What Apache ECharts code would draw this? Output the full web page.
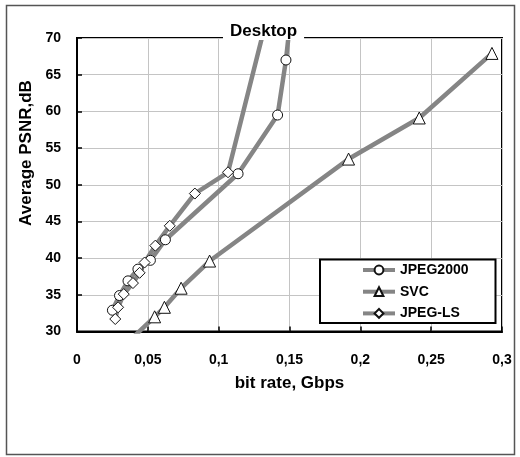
<!DOCTYPE html>
<html><head><meta charset="utf-8">
<script src="https://cdn.jsdelivr.net/npm/echarts@6/dist/echarts.min.js"></script>
<style>html,body{margin:0;padding:0;background:#fff}#c{width:520px;height:457px}</style>
</head><body><div id="c"></div>
<script>
const seriesNames = ['JPEG2000', 'SVC', 'JPEG-LS'];
const jpeg2000 = [[0.025,32.9],[0.030,34.9],[0.036,36.9],[0.043,38.5],[0.0518,39.7],[0.0624,42.5],[0.1137,51.5],[0.1416,59.5],[0.1475,67.0],[0.152,75]];
const svc = [[0.033,28],[0.0548,32.0],[0.0617,33.3],[0.0735,35.9],[0.0936,39.6],[0.1917,53.5],[0.2416,59.1],[0.2929,67.9]];
const jpegls = [[0.027,31.7],[0.029,33.3],[0.033,35.1],[0.0395,36.6],[0.0442,38.0],[0.0477,39.4],[0.0553,41.7],[0.0655,44.4],[0.0832,48.8],[0.1066,51.7],[0.137,75]];
const titleText = 'Desktop';
const xName = 'bit rate, Gbps';
const yName = 'Average PSNR,dB';

const chart = echarts.init(document.getElementById('c'));
const font = 'Liberation Sans, Arial, sans-serif';
function mk(name, data, symbol, size) {
  return {
    name, type: 'line', data, symbol, symbolSize: size, clip: true,
    lineStyle: { color: '#858585', width: 4.5 },
    itemStyle: { color: '#fff', borderColor: '#111', borderWidth: 1 },
    emphasis: { disabled: true }, z: 3
  };
}
chart.setOption({
  animation: false,
  backgroundColor: '#fff',
  title: {
    text: titleText, left: 223, top: 23,
    backgroundColor: '#fff', padding: [0, 7],
    textStyle: { fontFamily: font, fontWeight: 'bold', fontSize: 17, color: '#000' },
    z: 20
  },
  grid: { left: 77, right: 18, top: 38, bottom: 125.5, show: true, borderColor: '#000', borderWidth: 2 },
  legend: {
    orient: 'vertical', left: 356, top: 258, itemGap: 7.7,
    itemWidth: 32, itemHeight: 11,
    lineStyle: { width: 4, color: '#858585' },
    textStyle: { fontFamily: font, fontWeight: 'bold', fontSize: 14, color: '#000' },
    data: seriesNames, z: 30
  },
  xAxis: {
    type: 'value', min: 0, max: 0.3, interval: 0.05,
    name: xName, nameLocation: 'middle', nameGap: 43,
    nameTextStyle: { fontFamily: font, fontWeight: 'bold', fontSize: 17, color: '#000' },
    axisLine: { show: true, lineStyle: { color: '#000', width: 2 } },
    axisTick: { show: true, inside: true, length: 5, lineStyle: { color: '#000', width: 1.5 } },
    splitLine: { show: true, lineStyle: { color: '#c4c4c4', width: 1 } },
    axisLabel: { margin: 22, fontFamily: font, fontWeight: 'bold', fontSize: 14, color: '#000',
      formatter: v => v === 0 ? '0' : String(+v.toFixed(2)).replace('.', ',') }
  },
  yAxis: {
    type: 'value', min: 30, max: 70, interval: 5,
    axisLine: { show: true, lineStyle: { color: '#000', width: 2 } },
    axisTick: { show: true, inside: true, length: 5, lineStyle: { color: '#000', width: 1.5 } },
    splitLine: { show: true, lineStyle: { color: '#c4c4c4', width: 1 } },
    axisLabel: { margin: 16, fontFamily: font, fontWeight: 'bold', fontSize: 14, color: '#000' }
  },
  graphic: [
    { type: 'rect', shape: { x: 6.5, y: 5.5, width: 508, height: 449 }, style: { fill: 'none', stroke: '#555', lineWidth: 1.5 }, z: 1, silent: true },
    { type: 'rect', shape: { x: 320, y: 259.5, width: 175.5, height: 63.5 }, style: { fill: '#fff', stroke: '#000', lineWidth: 2 }, z: 10, silent: true },
    { type: 'text', x: 26, y: 153, rotation: Math.PI / 2, z: 10,
      style: { text: yName, fontFamily: font, fontWeight: 'bold', fontSize: 17, fill: '#000', align: 'center', verticalAlign: 'middle' } }
  ],
  series: [
    mk(seriesNames[0], jpeg2000, 'circle', 10),
    mk(seriesNames[1], svc, 'triangle', 12),
    mk(seriesNames[2], jpegls, 'diamond', 11)
  ]
});
</script></body></html>
